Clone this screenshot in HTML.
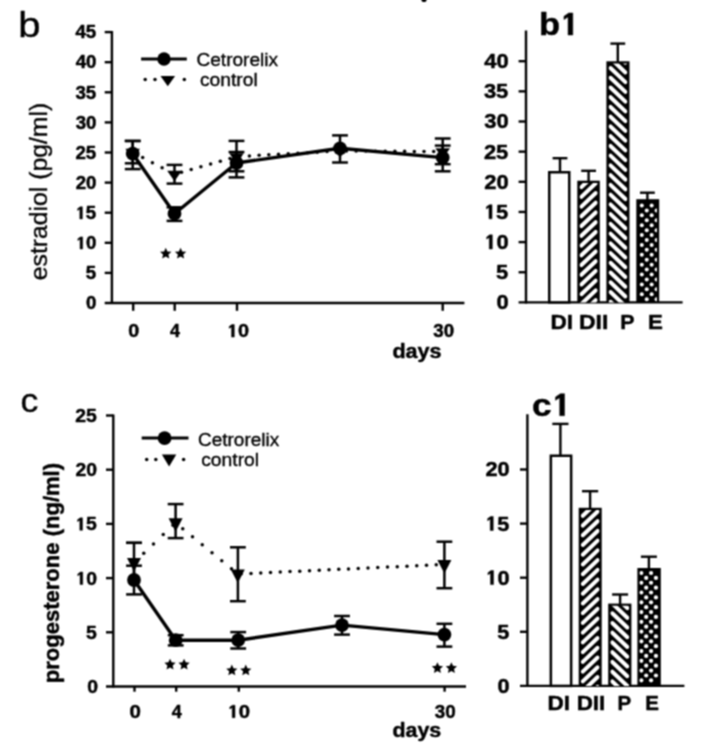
<!DOCTYPE html>
<html><head><meta charset="utf-8"><title>figure</title>
<style>
html,body{margin:0;padding:0;background:#fff;}
body{width:719px;height:750px;overflow:hidden;font-family:"Liberation Sans",sans-serif;}
svg{display:block;font-family:"Liberation Sans",sans-serif;}
</style></head><body>
<svg width="719" height="750" viewBox="0 0 719 750">
<defs><filter id="bl" x="0" y="0" width="100%" height="100%" filterUnits="objectBoundingBox" color-interpolation-filters="sRGB"><feConvolveMatrix order="3" kernelMatrix="1 2 1 2 4 2 1 2 1" edgeMode="duplicate" preserveAlpha="true"/></filter></defs>
<g filter="url(#bl)">
<rect x="-20" y="-20" width="759" height="790" fill="#fff"/>
<ellipse cx="424" cy="-0.3" rx="2.6" ry="2.4" fill="#000"/>
<line x1="111.90" y1="31.10" x2="111.90" y2="304.00" stroke="#000" stroke-width="2.4" stroke-linecap="butt"/>
<line x1="104.70" y1="303.00" x2="464.40" y2="303.00" stroke="#000" stroke-width="2.4" stroke-linecap="butt"/>
<line x1="104.70" y1="272.90" x2="111.90" y2="272.90" stroke="#000" stroke-width="2.4" stroke-linecap="butt"/>
<line x1="104.70" y1="242.80" x2="111.90" y2="242.80" stroke="#000" stroke-width="2.4" stroke-linecap="butt"/>
<line x1="104.70" y1="212.70" x2="111.90" y2="212.70" stroke="#000" stroke-width="2.4" stroke-linecap="butt"/>
<line x1="104.70" y1="182.60" x2="111.90" y2="182.60" stroke="#000" stroke-width="2.4" stroke-linecap="butt"/>
<line x1="104.70" y1="152.50" x2="111.90" y2="152.50" stroke="#000" stroke-width="2.4" stroke-linecap="butt"/>
<line x1="104.70" y1="122.40" x2="111.90" y2="122.40" stroke="#000" stroke-width="2.4" stroke-linecap="butt"/>
<line x1="104.70" y1="92.30" x2="111.90" y2="92.30" stroke="#000" stroke-width="2.4" stroke-linecap="butt"/>
<line x1="104.70" y1="62.20" x2="111.90" y2="62.20" stroke="#000" stroke-width="2.4" stroke-linecap="butt"/>
<line x1="104.70" y1="32.10" x2="111.90" y2="32.10" stroke="#000" stroke-width="2.4" stroke-linecap="butt"/>
<line x1="133.20" y1="303.00" x2="133.20" y2="310.80" stroke="#000" stroke-width="2.4" stroke-linecap="butt"/>
<line x1="174.70" y1="303.00" x2="174.70" y2="310.80" stroke="#000" stroke-width="2.4" stroke-linecap="butt"/>
<line x1="237.00" y1="303.00" x2="237.00" y2="310.80" stroke="#000" stroke-width="2.4" stroke-linecap="butt"/>
<line x1="442.70" y1="303.00" x2="442.70" y2="310.80" stroke="#000" stroke-width="2.4" stroke-linecap="butt"/>
<text transform="translate(86.09,309.20) scale(1.0600,1)" textLength="9.79" lengthAdjust="spacingAndGlyphs" font-size="17.60" font-weight="bold" fill="#000" stroke="#000" stroke-width="0.45" stroke-linejoin="round">0</text>
<text transform="translate(85.85,279.10) scale(1.0600,1)" textLength="9.79" lengthAdjust="spacingAndGlyphs" font-size="17.60" font-weight="bold" fill="#000" stroke="#000" stroke-width="0.45" stroke-linejoin="round">5</text>
<g transform="translate(75.72,249.00) scale(1.0600,1)" font-size="17.60" font-weight="bold" fill="#000" stroke="#000" stroke-width="0.45" stroke-linejoin="round">
<polygon points="4.11,0.00 4.11,-9.88 2.02,-8.46 2.02,-10.27 4.47,-12.11 6.52,-12.11 6.52,0.00"/>
<text x="9.79" y="0">0</text>
</g>
<g transform="translate(75.47,218.90) scale(1.0600,1)" font-size="17.60" font-weight="bold" fill="#000" stroke="#000" stroke-width="0.45" stroke-linejoin="round">
<polygon points="4.11,0.00 4.11,-9.88 2.02,-8.46 2.02,-10.27 4.47,-12.11 6.52,-12.11 6.52,0.00"/>
<text x="9.79" y="0">5</text>
</g>
<text transform="translate(75.72,188.80) scale(1.0600,1)" textLength="19.58" lengthAdjust="spacingAndGlyphs" font-size="17.60" font-weight="bold" fill="#000" stroke="#000" stroke-width="0.45" stroke-linejoin="round">20</text>
<text transform="translate(75.48,158.70) scale(1.0600,1)" textLength="19.58" lengthAdjust="spacingAndGlyphs" font-size="17.60" font-weight="bold" fill="#000" stroke="#000" stroke-width="0.45" stroke-linejoin="round">25</text>
<text transform="translate(75.72,128.60) scale(1.0600,1)" textLength="19.58" lengthAdjust="spacingAndGlyphs" font-size="17.60" font-weight="bold" fill="#000" stroke="#000" stroke-width="0.45" stroke-linejoin="round">30</text>
<text transform="translate(75.48,98.50) scale(1.0600,1)" textLength="19.58" lengthAdjust="spacingAndGlyphs" font-size="17.60" font-weight="bold" fill="#000" stroke="#000" stroke-width="0.45" stroke-linejoin="round">35</text>
<text transform="translate(75.72,68.40) scale(1.0600,1)" textLength="19.58" lengthAdjust="spacingAndGlyphs" font-size="17.60" font-weight="bold" fill="#000" stroke="#000" stroke-width="0.45" stroke-linejoin="round">40</text>
<text transform="translate(75.48,38.30) scale(1.0600,1)" textLength="19.58" lengthAdjust="spacingAndGlyphs" font-size="17.60" font-weight="bold" fill="#000" stroke="#000" stroke-width="0.45" stroke-linejoin="round">45</text>
<text transform="translate(128.21,337.10) scale(1.0873,1)" textLength="10.12" lengthAdjust="spacingAndGlyphs" font-size="18.20" font-weight="bold" fill="#000" stroke="#000" stroke-width="0.45" stroke-linejoin="round">0</text>
<text transform="translate(169.93,337.10) scale(0.9841,1)" textLength="10.12" lengthAdjust="spacingAndGlyphs" font-size="18.20" font-weight="bold" fill="#000" stroke="#000" stroke-width="0.45" stroke-linejoin="round">4</text>
<g transform="translate(226.92,337.10) scale(1.0915,1)" font-size="18.20" font-weight="bold" fill="#000" stroke="#000" stroke-width="0.45" stroke-linejoin="round">
<polygon points="4.25,0.00 4.25,-10.22 2.09,-8.75 2.09,-10.62 4.62,-12.52 6.75,-12.52 6.75,0.00"/>
<text x="10.12" y="0">0</text>
</g>
<text transform="translate(433.27,337.10) scale(1.0276,1)" textLength="20.24" lengthAdjust="spacingAndGlyphs" font-size="18.20" font-weight="bold" fill="#000" stroke="#000" stroke-width="0.45" stroke-linejoin="round">30</text>
<text transform="translate(392.42,358.40) scale(1.0473,1)" textLength="46.95" lengthAdjust="spacingAndGlyphs" font-size="20.60" font-weight="bold" fill="#000" stroke="#000" stroke-width="0.45" stroke-linejoin="round">days</text>
<text transform="translate(18.19,37.00) scale(1.1487,1)" textLength="19.41" lengthAdjust="spacingAndGlyphs" font-size="34.90" font-weight="normal" fill="#000" stroke="#000" stroke-width="0.35" stroke-linejoin="round">b</text>
<text transform="translate(47.20,280.24) rotate(-90) scale(1.0396,1)" textLength="170.62" lengthAdjust="spacingAndGlyphs" font-size="23.80" font-weight="normal" fill="#000" stroke="#000" stroke-width="0.35" stroke-linejoin="round">estradiol (pg/ml)</text>
<line x1="141.10" y1="59.00" x2="186.80" y2="59.00" stroke="#000" stroke-width="3.0" stroke-linecap="butt"/>
<circle cx="164.00" cy="59.00" r="6.7" fill="#000"/>
<text transform="translate(196.43,66.10) scale(1.0047,1)" textLength="81.30" lengthAdjust="spacingAndGlyphs" font-size="19.00" font-weight="normal" fill="#000" stroke="#000" stroke-width="0.35" stroke-linejoin="round">Cetrorelix</text>
<text transform="translate(199.99,85.80) scale(1.0119,1)" textLength="57.03" lengthAdjust="spacingAndGlyphs" font-size="19.00" font-weight="normal" fill="#000" stroke="#000" stroke-width="0.35" stroke-linejoin="round">control</text>
<circle cx="145.2" cy="79.6" r="1.75" fill="#000"/>
<circle cx="155.0" cy="79.6" r="1.75" fill="#000"/>
<circle cx="184.3" cy="79.6" r="1.75" fill="#000"/>
<polygon points="160.50,75.93 175.10,75.93 167.80,86.33" fill="#000"/>
<circle cx="142.70" cy="157.56" r="1.75" fill="#000"/>
<circle cx="152.40" cy="162.67" r="1.75" fill="#000"/>
<circle cx="162.10" cy="167.77" r="1.75" fill="#000"/>
<circle cx="171.80" cy="172.88" r="1.75" fill="#000"/>
<circle cx="181.50" cy="172.30" r="1.75" fill="#000"/>
<circle cx="191.20" cy="169.53" r="1.75" fill="#000"/>
<circle cx="200.90" cy="166.76" r="1.75" fill="#000"/>
<circle cx="210.60" cy="163.99" r="1.75" fill="#000"/>
<circle cx="220.30" cy="161.22" r="1.75" fill="#000"/>
<circle cx="230.00" cy="158.46" r="1.75" fill="#000"/>
<circle cx="239.70" cy="156.42" r="1.75" fill="#000"/>
<circle cx="249.40" cy="155.89" r="1.75" fill="#000"/>
<circle cx="259.10" cy="155.36" r="1.75" fill="#000"/>
<circle cx="268.80" cy="154.82" r="1.75" fill="#000"/>
<circle cx="278.50" cy="154.29" r="1.75" fill="#000"/>
<circle cx="288.20" cy="153.75" r="1.75" fill="#000"/>
<circle cx="297.90" cy="153.22" r="1.75" fill="#000"/>
<circle cx="307.60" cy="152.68" r="1.75" fill="#000"/>
<circle cx="317.30" cy="152.15" r="1.75" fill="#000"/>
<circle cx="327.00" cy="151.62" r="1.75" fill="#000"/>
<circle cx="336.70" cy="151.08" r="1.75" fill="#000"/>
<circle cx="346.40" cy="150.94" r="1.75" fill="#000"/>
<circle cx="356.10" cy="151.01" r="1.75" fill="#000"/>
<circle cx="365.80" cy="151.08" r="1.75" fill="#000"/>
<circle cx="375.50" cy="151.14" r="1.75" fill="#000"/>
<circle cx="385.20" cy="151.21" r="1.75" fill="#000"/>
<circle cx="394.90" cy="151.27" r="1.75" fill="#000"/>
<circle cx="404.60" cy="151.34" r="1.75" fill="#000"/>
<circle cx="414.30" cy="151.41" r="1.75" fill="#000"/>
<circle cx="424.00" cy="151.47" r="1.75" fill="#000"/>
<circle cx="433.70" cy="151.54" r="1.75" fill="#000"/>
<polyline points="132.70,153.70 174.50,213.70 236.50,163.00 340.00,148.30 442.70,157.60" fill="none" stroke="#000" stroke-width="3.4" stroke-linejoin="round"/>
<line x1="132.70" y1="140.90" x2="132.70" y2="163.30" stroke="#000" stroke-width="2.5" stroke-linecap="butt"/>
<line x1="124.80" y1="140.90" x2="140.60" y2="140.90" stroke="#000" stroke-width="2.5" stroke-linecap="butt"/>
<line x1="124.80" y1="163.30" x2="140.60" y2="163.30" stroke="#000" stroke-width="2.5" stroke-linecap="butt"/>
<line x1="132.70" y1="141.00" x2="132.70" y2="169.10" stroke="#000" stroke-width="2.5" stroke-linecap="butt"/>
<line x1="124.80" y1="141.00" x2="140.60" y2="141.00" stroke="#000" stroke-width="2.5" stroke-linecap="butt"/>
<line x1="124.80" y1="169.10" x2="140.60" y2="169.10" stroke="#000" stroke-width="2.5" stroke-linecap="butt"/>
<line x1="174.50" y1="164.90" x2="174.50" y2="183.60" stroke="#000" stroke-width="2.5" stroke-linecap="butt"/>
<line x1="166.60" y1="164.90" x2="182.40" y2="164.90" stroke="#000" stroke-width="2.5" stroke-linecap="butt"/>
<line x1="166.60" y1="183.60" x2="182.40" y2="183.60" stroke="#000" stroke-width="2.5" stroke-linecap="butt"/>
<line x1="174.50" y1="207.30" x2="174.50" y2="220.90" stroke="#000" stroke-width="2.5" stroke-linecap="butt"/>
<line x1="166.60" y1="207.30" x2="182.40" y2="207.30" stroke="#000" stroke-width="2.5" stroke-linecap="butt"/>
<line x1="166.60" y1="220.90" x2="182.40" y2="220.90" stroke="#000" stroke-width="2.5" stroke-linecap="butt"/>
<line x1="236.50" y1="140.90" x2="236.50" y2="171.30" stroke="#000" stroke-width="2.5" stroke-linecap="butt"/>
<line x1="228.60" y1="140.90" x2="244.40" y2="140.90" stroke="#000" stroke-width="2.5" stroke-linecap="butt"/>
<line x1="228.60" y1="171.30" x2="244.40" y2="171.30" stroke="#000" stroke-width="2.5" stroke-linecap="butt"/>
<line x1="236.50" y1="152.00" x2="236.50" y2="177.40" stroke="#000" stroke-width="2.5" stroke-linecap="butt"/>
<line x1="228.60" y1="152.00" x2="244.40" y2="152.00" stroke="#000" stroke-width="2.5" stroke-linecap="butt"/>
<line x1="228.60" y1="177.40" x2="244.40" y2="177.40" stroke="#000" stroke-width="2.5" stroke-linecap="butt"/>
<line x1="340.00" y1="135.40" x2="340.00" y2="162.50" stroke="#000" stroke-width="2.5" stroke-linecap="butt"/>
<line x1="332.10" y1="135.40" x2="347.90" y2="135.40" stroke="#000" stroke-width="2.5" stroke-linecap="butt"/>
<line x1="332.10" y1="162.50" x2="347.90" y2="162.50" stroke="#000" stroke-width="2.5" stroke-linecap="butt"/>
<line x1="442.70" y1="138.50" x2="442.70" y2="164.20" stroke="#000" stroke-width="2.5" stroke-linecap="butt"/>
<line x1="434.80" y1="138.50" x2="450.60" y2="138.50" stroke="#000" stroke-width="2.5" stroke-linecap="butt"/>
<line x1="434.80" y1="164.20" x2="450.60" y2="164.20" stroke="#000" stroke-width="2.5" stroke-linecap="butt"/>
<line x1="442.70" y1="145.60" x2="442.70" y2="171.30" stroke="#000" stroke-width="2.5" stroke-linecap="butt"/>
<line x1="434.80" y1="145.60" x2="450.60" y2="145.60" stroke="#000" stroke-width="2.5" stroke-linecap="butt"/>
<line x1="434.80" y1="171.30" x2="450.60" y2="171.30" stroke="#000" stroke-width="2.5" stroke-linecap="butt"/>
<circle cx="132.70" cy="153.70" r="6.9" fill="#000"/>
<circle cx="174.50" cy="213.70" r="6.9" fill="#000"/>
<circle cx="236.50" cy="163.00" r="6.9" fill="#000"/>
<circle cx="340.00" cy="148.30" r="6.9" fill="#000"/>
<circle cx="442.70" cy="157.60" r="6.9" fill="#000"/>
<polygon points="125.40,148.83 140.00,148.83 132.70,159.23" fill="#000"/>
<polygon points="167.20,170.83 181.80,170.83 174.50,181.23" fill="#000"/>
<polygon points="229.20,153.13 243.80,153.13 236.50,163.53" fill="#000"/>
<polygon points="332.70,147.43 347.30,147.43 340.00,157.83" fill="#000"/>
<polygon points="435.40,148.13 450.00,148.13 442.70,158.53" fill="#000"/>
<polygon points="165.73,247.70 167.40,251.43 171.46,251.86 168.42,254.60 169.27,258.60 165.73,256.56 162.19,258.60 163.04,254.60 160.00,251.86 164.07,251.43" fill="#000"/>
<polygon points="180.57,247.70 182.23,251.43 186.30,251.86 183.26,254.60 184.11,258.60 180.57,256.56 177.03,258.60 177.88,254.60 174.84,251.86 178.90,251.43" fill="#000"/>
<line x1="526.00" y1="30.60" x2="526.00" y2="303.40" stroke="#000" stroke-width="2.4" stroke-linecap="butt"/>
<line x1="518.60" y1="302.40" x2="682.60" y2="302.40" stroke="#000" stroke-width="2.4" stroke-linecap="butt"/>
<line x1="518.60" y1="272.25" x2="526.00" y2="272.25" stroke="#000" stroke-width="2.4" stroke-linecap="butt"/>
<line x1="518.60" y1="242.10" x2="526.00" y2="242.10" stroke="#000" stroke-width="2.4" stroke-linecap="butt"/>
<line x1="518.60" y1="211.95" x2="526.00" y2="211.95" stroke="#000" stroke-width="2.4" stroke-linecap="butt"/>
<line x1="518.60" y1="181.80" x2="526.00" y2="181.80" stroke="#000" stroke-width="2.4" stroke-linecap="butt"/>
<line x1="518.60" y1="151.65" x2="526.00" y2="151.65" stroke="#000" stroke-width="2.4" stroke-linecap="butt"/>
<line x1="518.60" y1="121.50" x2="526.00" y2="121.50" stroke="#000" stroke-width="2.4" stroke-linecap="butt"/>
<line x1="518.60" y1="91.35" x2="526.00" y2="91.35" stroke="#000" stroke-width="2.4" stroke-linecap="butt"/>
<line x1="518.60" y1="61.20" x2="526.00" y2="61.20" stroke="#000" stroke-width="2.4" stroke-linecap="butt"/>
<text transform="translate(496.39,309.30) scale(1.0700,1)" textLength="11.42" lengthAdjust="spacingAndGlyphs" font-size="20.53" font-weight="bold" fill="#000" stroke="#000" stroke-width="0.45" stroke-linejoin="round">0</text>
<text transform="translate(496.10,279.15) scale(1.0700,1)" textLength="11.42" lengthAdjust="spacingAndGlyphs" font-size="20.53" font-weight="bold" fill="#000" stroke="#000" stroke-width="0.45" stroke-linejoin="round">5</text>
<g transform="translate(484.17,249.00) scale(1.0700,1)" font-size="20.53" font-weight="bold" fill="#000" stroke="#000" stroke-width="0.45" stroke-linejoin="round">
<polygon points="4.79,0.00 4.79,-11.53 2.36,-9.88 2.36,-11.98 5.21,-14.13 7.61,-14.13 7.61,0.00"/>
<text x="11.42" y="0">0</text>
</g>
<g transform="translate(483.88,218.85) scale(1.0700,1)" font-size="20.53" font-weight="bold" fill="#000" stroke="#000" stroke-width="0.45" stroke-linejoin="round">
<polygon points="4.79,0.00 4.79,-11.53 2.36,-9.88 2.36,-11.98 5.21,-14.13 7.61,-14.13 7.61,0.00"/>
<text x="11.42" y="0">5</text>
</g>
<text transform="translate(484.17,188.70) scale(1.0700,1)" textLength="22.84" lengthAdjust="spacingAndGlyphs" font-size="20.53" font-weight="bold" fill="#000" stroke="#000" stroke-width="0.45" stroke-linejoin="round">20</text>
<text transform="translate(483.88,158.55) scale(1.0700,1)" textLength="22.84" lengthAdjust="spacingAndGlyphs" font-size="20.53" font-weight="bold" fill="#000" stroke="#000" stroke-width="0.45" stroke-linejoin="round">25</text>
<text transform="translate(484.17,128.40) scale(1.0700,1)" textLength="22.84" lengthAdjust="spacingAndGlyphs" font-size="20.53" font-weight="bold" fill="#000" stroke="#000" stroke-width="0.45" stroke-linejoin="round">30</text>
<text transform="translate(483.88,98.25) scale(1.0700,1)" textLength="22.84" lengthAdjust="spacingAndGlyphs" font-size="20.53" font-weight="bold" fill="#000" stroke="#000" stroke-width="0.45" stroke-linejoin="round">35</text>
<text transform="translate(484.17,68.10) scale(1.0700,1)" textLength="22.84" lengthAdjust="spacingAndGlyphs" font-size="20.53" font-weight="bold" fill="#000" stroke="#000" stroke-width="0.45" stroke-linejoin="round">40</text>
<g transform="translate(538.92,35.00) scale(1.0787,1)" font-size="32.00" font-weight="bold" fill="#000" stroke="#000" stroke-width="0.45" stroke-linejoin="round">
<text x="0.00" y="0">b</text>
<polygon points="27.02,0.00 27.02,-17.97 23.22,-15.39 23.22,-18.67 27.67,-22.02 31.41,-22.02 31.41,0.00"/>
</g>
<rect x="549.25" y="172.25" width="20.00" height="130.15" fill="#fff" stroke="#000" stroke-width="2.5"/>
<line x1="560.00" y1="158.20" x2="560.00" y2="172.00" stroke="#000" stroke-width="2.4" stroke-linecap="butt"/>
<line x1="552.60" y1="158.20" x2="567.40" y2="158.20" stroke="#000" stroke-width="2.4" stroke-linecap="butt"/>
<rect x="577.30" y="180.70" width="22.50" height="121.70" fill="#000"/>
<clipPath id="c1"><rect x="579.50" y="182.90" width="18.10" height="119.50"/></clipPath>
<g clip-path="url(#c1)" stroke="#fff" stroke-width="4.0" stroke-linecap="round">
<line x1="581.40" y1="138.40" x2="595.70" y2="124.82"/>
<line x1="581.40" y1="148.14" x2="595.70" y2="134.56"/>
<line x1="581.40" y1="157.88" x2="595.70" y2="144.30"/>
<line x1="581.40" y1="167.62" x2="595.70" y2="154.04"/>
<line x1="581.40" y1="177.36" x2="595.70" y2="163.78"/>
<line x1="581.40" y1="187.10" x2="595.70" y2="173.52"/>
<line x1="581.40" y1="196.84" x2="595.70" y2="183.26"/>
<line x1="581.40" y1="206.58" x2="595.70" y2="193.00"/>
<line x1="581.40" y1="216.32" x2="595.70" y2="202.74"/>
<line x1="581.40" y1="226.06" x2="595.70" y2="212.48"/>
<line x1="581.40" y1="235.80" x2="595.70" y2="222.22"/>
<line x1="581.40" y1="245.54" x2="595.70" y2="231.96"/>
<line x1="581.40" y1="255.28" x2="595.70" y2="241.70"/>
<line x1="581.40" y1="265.02" x2="595.70" y2="251.44"/>
<line x1="581.40" y1="274.76" x2="595.70" y2="261.18"/>
<line x1="581.40" y1="284.50" x2="595.70" y2="270.92"/>
<line x1="581.40" y1="294.24" x2="595.70" y2="280.66"/>
<line x1="581.40" y1="303.98" x2="595.70" y2="290.40"/>
<line x1="581.40" y1="313.72" x2="595.70" y2="300.14"/>
<line x1="581.40" y1="323.46" x2="595.70" y2="309.88"/>
<line x1="581.40" y1="333.20" x2="595.70" y2="319.62"/>
<line x1="581.40" y1="342.94" x2="595.70" y2="329.36"/>
</g>
<line x1="588.60" y1="170.80" x2="588.60" y2="181.70" stroke="#000" stroke-width="2.4" stroke-linecap="butt"/>
<line x1="581.20" y1="170.80" x2="596.00" y2="170.80" stroke="#000" stroke-width="2.4" stroke-linecap="butt"/>
<rect x="606.40" y="61.30" width="23.10" height="241.10" fill="#000"/>
<clipPath id="c2"><rect x="608.60" y="63.50" width="18.70" height="238.90"/></clipPath>
<g clip-path="url(#c2)" stroke="#fff" stroke-width="4.0" stroke-linecap="round">
<line x1="610.50" y1="19.32" x2="625.40" y2="33.47"/>
<line x1="610.50" y1="29.06" x2="625.40" y2="43.21"/>
<line x1="610.50" y1="38.79" x2="625.40" y2="52.95"/>
<line x1="610.50" y1="48.54" x2="625.40" y2="62.69"/>
<line x1="610.50" y1="58.28" x2="625.40" y2="72.43"/>
<line x1="610.50" y1="68.01" x2="625.40" y2="82.17"/>
<line x1="610.50" y1="77.75" x2="625.40" y2="91.91"/>
<line x1="610.50" y1="87.50" x2="625.40" y2="101.65"/>
<line x1="610.50" y1="97.23" x2="625.40" y2="111.39"/>
<line x1="610.50" y1="106.97" x2="625.40" y2="121.13"/>
<line x1="610.50" y1="116.72" x2="625.40" y2="130.87"/>
<line x1="610.50" y1="126.45" x2="625.40" y2="140.61"/>
<line x1="610.50" y1="136.19" x2="625.40" y2="150.35"/>
<line x1="610.50" y1="145.94" x2="625.40" y2="160.09"/>
<line x1="610.50" y1="155.67" x2="625.40" y2="169.83"/>
<line x1="610.50" y1="165.41" x2="625.40" y2="179.57"/>
<line x1="610.50" y1="175.16" x2="625.40" y2="189.31"/>
<line x1="610.50" y1="184.90" x2="625.40" y2="199.05"/>
<line x1="610.50" y1="194.63" x2="625.40" y2="208.79"/>
<line x1="610.50" y1="204.38" x2="625.40" y2="218.53"/>
<line x1="610.50" y1="214.12" x2="625.40" y2="228.27"/>
<line x1="610.50" y1="223.85" x2="625.40" y2="238.01"/>
<line x1="610.50" y1="233.59" x2="625.40" y2="247.75"/>
<line x1="610.50" y1="243.34" x2="625.40" y2="257.49"/>
<line x1="610.50" y1="253.08" x2="625.40" y2="267.23"/>
<line x1="610.50" y1="262.82" x2="625.40" y2="276.97"/>
<line x1="610.50" y1="272.56" x2="625.40" y2="286.71"/>
<line x1="610.50" y1="282.30" x2="625.40" y2="296.45"/>
<line x1="610.50" y1="292.04" x2="625.40" y2="306.19"/>
<line x1="610.50" y1="301.78" x2="625.40" y2="315.93"/>
<line x1="610.50" y1="311.52" x2="625.40" y2="325.67"/>
<line x1="610.50" y1="321.25" x2="625.40" y2="335.41"/>
<line x1="610.50" y1="331.00" x2="625.40" y2="345.15"/>
<line x1="610.50" y1="340.74" x2="625.40" y2="354.89"/>
<line x1="610.50" y1="350.48" x2="625.40" y2="364.63"/>
</g>
<line x1="617.80" y1="43.60" x2="617.80" y2="62.30" stroke="#000" stroke-width="2.4" stroke-linecap="butt"/>
<line x1="610.40" y1="43.60" x2="625.20" y2="43.60" stroke="#000" stroke-width="2.4" stroke-linecap="butt"/>
<rect x="636.30" y="199.20" width="22.90" height="103.20" fill="#000"/>
<clipPath id="c3"><rect x="638.30" y="201.20" width="18.60" height="101.20"/></clipPath>
<g clip-path="url(#c3)" fill="#fff">
<circle cx="641.80" cy="205.50" r="2.0"/>
<circle cx="641.80" cy="215.36" r="2.0"/>
<circle cx="641.80" cy="225.22" r="2.0"/>
<circle cx="641.80" cy="235.08" r="2.0"/>
<circle cx="641.80" cy="244.94" r="2.0"/>
<circle cx="641.80" cy="254.80" r="2.0"/>
<circle cx="641.80" cy="264.66" r="2.0"/>
<circle cx="641.80" cy="274.52" r="2.0"/>
<circle cx="641.80" cy="284.38" r="2.0"/>
<circle cx="641.80" cy="294.24" r="2.0"/>
<circle cx="646.73" cy="210.43" r="2.0"/>
<circle cx="646.73" cy="220.29" r="2.0"/>
<circle cx="646.73" cy="230.15" r="2.0"/>
<circle cx="646.73" cy="240.01" r="2.0"/>
<circle cx="646.73" cy="249.87" r="2.0"/>
<circle cx="646.73" cy="259.73" r="2.0"/>
<circle cx="646.73" cy="269.59" r="2.0"/>
<circle cx="646.73" cy="279.45" r="2.0"/>
<circle cx="646.73" cy="289.31" r="2.0"/>
<circle cx="646.73" cy="299.17" r="2.0"/>
<circle cx="651.66" cy="205.50" r="2.0"/>
<circle cx="651.66" cy="215.36" r="2.0"/>
<circle cx="651.66" cy="225.22" r="2.0"/>
<circle cx="651.66" cy="235.08" r="2.0"/>
<circle cx="651.66" cy="244.94" r="2.0"/>
<circle cx="651.66" cy="254.80" r="2.0"/>
<circle cx="651.66" cy="264.66" r="2.0"/>
<circle cx="651.66" cy="274.52" r="2.0"/>
<circle cx="651.66" cy="284.38" r="2.0"/>
<circle cx="651.66" cy="294.24" r="2.0"/>
<circle cx="656.59" cy="210.43" r="2.0"/>
<circle cx="656.59" cy="220.29" r="2.0"/>
<circle cx="656.59" cy="230.15" r="2.0"/>
<circle cx="656.59" cy="240.01" r="2.0"/>
<circle cx="656.59" cy="249.87" r="2.0"/>
<circle cx="656.59" cy="259.73" r="2.0"/>
<circle cx="656.59" cy="269.59" r="2.0"/>
<circle cx="656.59" cy="279.45" r="2.0"/>
<circle cx="656.59" cy="289.31" r="2.0"/>
<circle cx="656.59" cy="299.17" r="2.0"/>
</g>
<line x1="647.40" y1="192.70" x2="647.40" y2="200.20" stroke="#000" stroke-width="2.4" stroke-linecap="butt"/>
<line x1="640.00" y1="192.70" x2="654.80" y2="192.70" stroke="#000" stroke-width="2.4" stroke-linecap="butt"/>
<text transform="translate(550.59,328.50) scale(1.1372,1)" textLength="19.80" lengthAdjust="spacingAndGlyphs" font-size="19.80" font-weight="bold" fill="#000" stroke="#000" stroke-width="0.45" stroke-linejoin="round">DI</text>
<text transform="translate(579.07,328.50) scale(1.1567,1)" textLength="25.30" lengthAdjust="spacingAndGlyphs" font-size="19.80" font-weight="bold" fill="#000" stroke="#000" stroke-width="0.45" stroke-linejoin="round">DII</text>
<text transform="translate(620.17,328.50) scale(1.0797,1)" textLength="13.21" lengthAdjust="spacingAndGlyphs" font-size="19.80" font-weight="bold" fill="#000" stroke="#000" stroke-width="0.45" stroke-linejoin="round">P</text>
<text transform="translate(647.91,328.50) scale(1.1253,1)" textLength="13.21" lengthAdjust="spacingAndGlyphs" font-size="19.80" font-weight="bold" fill="#000" stroke="#000" stroke-width="0.45" stroke-linejoin="round">E</text>
<line x1="113.30" y1="414.40" x2="113.30" y2="687.50" stroke="#000" stroke-width="2.4" stroke-linecap="butt"/>
<line x1="106.00" y1="686.50" x2="466.00" y2="686.50" stroke="#000" stroke-width="2.4" stroke-linecap="butt"/>
<line x1="106.00" y1="632.30" x2="113.30" y2="632.30" stroke="#000" stroke-width="2.4" stroke-linecap="butt"/>
<line x1="106.00" y1="578.10" x2="113.30" y2="578.10" stroke="#000" stroke-width="2.4" stroke-linecap="butt"/>
<line x1="106.00" y1="523.90" x2="113.30" y2="523.90" stroke="#000" stroke-width="2.4" stroke-linecap="butt"/>
<line x1="106.00" y1="469.70" x2="113.30" y2="469.70" stroke="#000" stroke-width="2.4" stroke-linecap="butt"/>
<line x1="106.00" y1="415.50" x2="113.30" y2="415.50" stroke="#000" stroke-width="2.4" stroke-linecap="butt"/>
<line x1="134.50" y1="686.50" x2="134.50" y2="691.70" stroke="#000" stroke-width="2.4" stroke-linecap="butt"/>
<line x1="176.20" y1="686.50" x2="176.20" y2="691.70" stroke="#000" stroke-width="2.4" stroke-linecap="butt"/>
<line x1="238.80" y1="686.50" x2="238.80" y2="691.70" stroke="#000" stroke-width="2.4" stroke-linecap="butt"/>
<line x1="444.60" y1="686.50" x2="444.60" y2="691.70" stroke="#000" stroke-width="2.4" stroke-linecap="butt"/>
<text transform="translate(87.33,692.90) scale(1.0700,1)" textLength="10.07" lengthAdjust="spacingAndGlyphs" font-size="18.10" font-weight="bold" fill="#000" stroke="#000" stroke-width="0.45" stroke-linejoin="round">0</text>
<text transform="translate(86.07,638.70) scale(1.0700,1)" textLength="10.07" lengthAdjust="spacingAndGlyphs" font-size="18.10" font-weight="bold" fill="#000" stroke="#000" stroke-width="0.45" stroke-linejoin="round">5</text>
<g transform="translate(75.55,584.50) scale(1.0700,1)" font-size="18.10" font-weight="bold" fill="#000" stroke="#000" stroke-width="0.45" stroke-linejoin="round">
<polygon points="4.22,0.00 4.22,-10.16 2.08,-8.71 2.08,-10.56 4.60,-12.45 6.71,-12.45 6.71,0.00"/>
<text x="10.07" y="0">0</text>
</g>
<g transform="translate(75.30,530.30) scale(1.0700,1)" font-size="18.10" font-weight="bold" fill="#000" stroke="#000" stroke-width="0.45" stroke-linejoin="round">
<polygon points="4.22,0.00 4.22,-10.16 2.08,-8.71 2.08,-10.56 4.60,-12.45 6.71,-12.45 6.71,0.00"/>
<text x="10.07" y="0">5</text>
</g>
<text transform="translate(75.56,476.10) scale(1.0700,1)" textLength="20.13" lengthAdjust="spacingAndGlyphs" font-size="18.10" font-weight="bold" fill="#000" stroke="#000" stroke-width="0.45" stroke-linejoin="round">20</text>
<text transform="translate(75.31,421.90) scale(1.0700,1)" textLength="20.13" lengthAdjust="spacingAndGlyphs" font-size="18.10" font-weight="bold" fill="#000" stroke="#000" stroke-width="0.45" stroke-linejoin="round">25</text>
<text transform="translate(129.38,717.70) scale(1.1220,1)" textLength="10.12" lengthAdjust="spacingAndGlyphs" font-size="18.20" font-weight="bold" fill="#000" stroke="#000" stroke-width="0.45" stroke-linejoin="round">0</text>
<text transform="translate(171.63,717.70) scale(0.9943,1)" textLength="10.12" lengthAdjust="spacingAndGlyphs" font-size="18.20" font-weight="bold" fill="#000" stroke="#000" stroke-width="0.45" stroke-linejoin="round">4</text>
<g transform="translate(227.47,717.70) scale(1.1145,1)" font-size="18.20" font-weight="bold" fill="#000" stroke="#000" stroke-width="0.45" stroke-linejoin="round">
<polygon points="4.25,0.00 4.25,-10.22 2.09,-8.75 2.09,-10.62 4.62,-12.52 6.75,-12.52 6.75,0.00"/>
<text x="10.12" y="0">0</text>
</g>
<text transform="translate(434.77,717.70) scale(1.0328,1)" textLength="20.24" lengthAdjust="spacingAndGlyphs" font-size="18.20" font-weight="bold" fill="#000" stroke="#000" stroke-width="0.45" stroke-linejoin="round">30</text>
<text transform="translate(392.42,737.10) scale(1.0696,1)" textLength="45.59" lengthAdjust="spacingAndGlyphs" font-size="20.00" font-weight="bold" fill="#000" stroke="#000" stroke-width="0.45" stroke-linejoin="round">days</text>
<text transform="translate(20.60,412.00) scale(1.0802,1)" textLength="16.50" lengthAdjust="spacingAndGlyphs" font-size="33.00" font-weight="normal" fill="#000" stroke="#000" stroke-width="0.35" stroke-linejoin="round">c</text>
<text transform="translate(59.30,683.25) rotate(-90) scale(0.9880,1)" textLength="223.01" lengthAdjust="spacingAndGlyphs" font-size="22.30" font-weight="bold" fill="#000" stroke="#000" stroke-width="0.45" stroke-linejoin="round">progesterone (ng/ml)</text>
<line x1="141.70" y1="438.10" x2="188.50" y2="438.10" stroke="#000" stroke-width="3.0" stroke-linecap="butt"/>
<circle cx="164.60" cy="438.10" r="6.9" fill="#000"/>
<text transform="translate(198.03,445.60) scale(0.9985,1)" textLength="81.30" lengthAdjust="spacingAndGlyphs" font-size="19.00" font-weight="normal" fill="#000" stroke="#000" stroke-width="0.35" stroke-linejoin="round">Cetrorelix</text>
<text transform="translate(201.19,465.70) scale(1.0155,1)" textLength="57.03" lengthAdjust="spacingAndGlyphs" font-size="19.00" font-weight="normal" fill="#000" stroke="#000" stroke-width="0.35" stroke-linejoin="round">control</text>
<circle cx="146.7" cy="459.6" r="1.75" fill="#000"/>
<circle cx="155.8" cy="459.6" r="1.75" fill="#000"/>
<circle cx="183.6" cy="459.6" r="1.75" fill="#000"/>
<polygon points="161.90,454.40 176.30,454.40 169.10,466.40" fill="#000"/>
<circle cx="143.75" cy="553.20" r="1.75" fill="#000"/>
<circle cx="153.50" cy="543.89" r="1.75" fill="#000"/>
<circle cx="163.25" cy="534.59" r="1.75" fill="#000"/>
<circle cx="173.00" cy="525.28" r="1.75" fill="#000"/>
<circle cx="182.75" cy="528.69" r="1.75" fill="#000"/>
<circle cx="192.50" cy="536.71" r="1.75" fill="#000"/>
<circle cx="202.25" cy="544.74" r="1.75" fill="#000"/>
<circle cx="212.00" cy="552.76" r="1.75" fill="#000"/>
<circle cx="221.75" cy="560.79" r="1.75" fill="#000"/>
<circle cx="231.50" cy="568.81" r="1.75" fill="#000"/>
<circle cx="241.25" cy="573.84" r="1.75" fill="#000"/>
<circle cx="251.00" cy="573.39" r="1.75" fill="#000"/>
<circle cx="260.75" cy="572.94" r="1.75" fill="#000"/>
<circle cx="270.50" cy="572.50" r="1.75" fill="#000"/>
<circle cx="280.25" cy="572.05" r="1.75" fill="#000"/>
<circle cx="290.00" cy="571.60" r="1.75" fill="#000"/>
<circle cx="299.75" cy="571.15" r="1.75" fill="#000"/>
<circle cx="309.50" cy="570.70" r="1.75" fill="#000"/>
<circle cx="319.25" cy="570.25" r="1.75" fill="#000"/>
<circle cx="329.00" cy="569.81" r="1.75" fill="#000"/>
<circle cx="338.75" cy="569.36" r="1.75" fill="#000"/>
<circle cx="348.50" cy="568.91" r="1.75" fill="#000"/>
<circle cx="358.25" cy="568.46" r="1.75" fill="#000"/>
<circle cx="368.00" cy="568.01" r="1.75" fill="#000"/>
<circle cx="377.75" cy="567.56" r="1.75" fill="#000"/>
<circle cx="387.50" cy="567.12" r="1.75" fill="#000"/>
<circle cx="397.25" cy="566.67" r="1.75" fill="#000"/>
<circle cx="407.00" cy="566.22" r="1.75" fill="#000"/>
<circle cx="416.75" cy="565.77" r="1.75" fill="#000"/>
<circle cx="426.50" cy="565.32" r="1.75" fill="#000"/>
<circle cx="436.25" cy="564.87" r="1.75" fill="#000"/>
<polyline points="134.00,580.00 175.70,640.20 238.20,640.20 342.00,625.10 444.40,634.60" fill="none" stroke="#000" stroke-width="3.4" stroke-linejoin="round"/>
<line x1="134.00" y1="542.80" x2="134.00" y2="542.80" stroke="#000" stroke-width="2.5" stroke-linecap="butt"/>
<line x1="126.10" y1="542.80" x2="141.90" y2="542.80" stroke="#000" stroke-width="2.5" stroke-linecap="butt"/>
<line x1="126.10" y1="542.80" x2="141.90" y2="542.80" stroke="#000" stroke-width="2.5" stroke-linecap="butt"/>
<line x1="134.00" y1="542.80" x2="134.00" y2="580.00" stroke="#000" stroke-width="2.5" stroke-linecap="butt"/>
<line x1="134.00" y1="565.70" x2="134.00" y2="594.40" stroke="#000" stroke-width="2.5" stroke-linecap="butt"/>
<line x1="126.10" y1="565.70" x2="141.90" y2="565.70" stroke="#000" stroke-width="2.5" stroke-linecap="butt"/>
<line x1="126.10" y1="594.40" x2="141.90" y2="594.40" stroke="#000" stroke-width="2.5" stroke-linecap="butt"/>
<line x1="175.60" y1="504.10" x2="175.60" y2="538.10" stroke="#000" stroke-width="2.5" stroke-linecap="butt"/>
<line x1="167.70" y1="504.10" x2="183.50" y2="504.10" stroke="#000" stroke-width="2.5" stroke-linecap="butt"/>
<line x1="167.70" y1="538.10" x2="183.50" y2="538.10" stroke="#000" stroke-width="2.5" stroke-linecap="butt"/>
<line x1="175.70" y1="635.20" x2="175.70" y2="645.40" stroke="#000" stroke-width="2.5" stroke-linecap="butt"/>
<line x1="167.80" y1="635.20" x2="183.60" y2="635.20" stroke="#000" stroke-width="2.5" stroke-linecap="butt"/>
<line x1="167.80" y1="645.40" x2="183.60" y2="645.40" stroke="#000" stroke-width="2.5" stroke-linecap="butt"/>
<line x1="237.90" y1="547.30" x2="237.90" y2="601.20" stroke="#000" stroke-width="2.5" stroke-linecap="butt"/>
<line x1="230.00" y1="547.30" x2="245.80" y2="547.30" stroke="#000" stroke-width="2.5" stroke-linecap="butt"/>
<line x1="230.00" y1="601.20" x2="245.80" y2="601.20" stroke="#000" stroke-width="2.5" stroke-linecap="butt"/>
<line x1="238.20" y1="632.10" x2="238.20" y2="648.50" stroke="#000" stroke-width="2.5" stroke-linecap="butt"/>
<line x1="230.30" y1="632.10" x2="246.10" y2="632.10" stroke="#000" stroke-width="2.5" stroke-linecap="butt"/>
<line x1="230.30" y1="648.50" x2="246.10" y2="648.50" stroke="#000" stroke-width="2.5" stroke-linecap="butt"/>
<line x1="342.00" y1="616.00" x2="342.00" y2="634.60" stroke="#000" stroke-width="2.5" stroke-linecap="butt"/>
<line x1="334.10" y1="616.00" x2="349.90" y2="616.00" stroke="#000" stroke-width="2.5" stroke-linecap="butt"/>
<line x1="334.10" y1="634.60" x2="349.90" y2="634.60" stroke="#000" stroke-width="2.5" stroke-linecap="butt"/>
<line x1="444.40" y1="541.70" x2="444.40" y2="588.20" stroke="#000" stroke-width="2.5" stroke-linecap="butt"/>
<line x1="436.50" y1="541.70" x2="452.30" y2="541.70" stroke="#000" stroke-width="2.5" stroke-linecap="butt"/>
<line x1="436.50" y1="588.20" x2="452.30" y2="588.20" stroke="#000" stroke-width="2.5" stroke-linecap="butt"/>
<line x1="444.40" y1="623.80" x2="444.40" y2="646.60" stroke="#000" stroke-width="2.5" stroke-linecap="butt"/>
<line x1="436.50" y1="623.80" x2="452.30" y2="623.80" stroke="#000" stroke-width="2.5" stroke-linecap="butt"/>
<line x1="436.50" y1="646.60" x2="452.30" y2="646.60" stroke="#000" stroke-width="2.5" stroke-linecap="butt"/>
<circle cx="134.00" cy="580.00" r="6.9" fill="#000"/>
<circle cx="175.70" cy="640.20" r="6.9" fill="#000"/>
<circle cx="238.20" cy="640.20" r="6.9" fill="#000"/>
<circle cx="342.00" cy="625.10" r="6.9" fill="#000"/>
<circle cx="444.40" cy="634.60" r="6.9" fill="#000"/>
<polygon points="127.00,558.03 141.00,558.03 134.00,571.43" fill="#000"/>
<polygon points="168.60,518.33 182.60,518.33 175.60,531.73" fill="#000"/>
<polygon points="230.80,569.53 244.80,569.53 237.80,582.93" fill="#000"/>
<polygon points="437.40,560.03 451.40,560.03 444.40,573.43" fill="#000"/>
<polygon points="170.03,658.70 171.66,662.37 175.65,662.79 172.67,665.47 173.50,669.40 170.03,667.39 166.55,669.40 167.38,665.47 164.40,662.79 168.39,662.37" fill="#000"/>
<polygon points="184.07,658.70 185.71,662.37 189.70,662.79 186.72,665.47 187.55,669.40 184.07,667.39 180.60,669.40 181.43,665.47 178.45,662.79 182.44,662.37" fill="#000"/>
<polygon points="231.83,664.60 233.46,668.27 237.45,668.69 234.47,671.37 235.30,675.30 231.83,673.29 228.35,675.30 229.18,671.37 226.20,668.69 230.19,668.27" fill="#000"/>
<polygon points="245.77,664.60 247.41,668.27 251.40,668.69 248.42,671.37 249.25,675.30 245.77,673.29 242.30,675.30 243.13,671.37 240.15,668.69 244.14,668.27" fill="#000"/>
<polygon points="437.43,662.20 439.06,665.87 443.05,666.29 440.07,668.97 440.90,672.90 437.43,670.89 433.95,672.90 434.78,668.97 431.80,666.29 435.79,665.87" fill="#000"/>
<polygon points="451.37,662.20 453.01,665.87 457.00,666.29 454.02,668.97 454.85,672.90 451.37,670.89 447.90,672.90 448.73,668.97 445.75,666.29 449.74,665.87" fill="#000"/>
<line x1="527.40" y1="414.30" x2="527.40" y2="686.90" stroke="#000" stroke-width="2.4" stroke-linecap="butt"/>
<line x1="520.00" y1="685.90" x2="684.40" y2="685.90" stroke="#000" stroke-width="2.4" stroke-linecap="butt"/>
<line x1="520.00" y1="631.80" x2="527.40" y2="631.80" stroke="#000" stroke-width="2.4" stroke-linecap="butt"/>
<line x1="520.00" y1="577.70" x2="527.40" y2="577.70" stroke="#000" stroke-width="2.4" stroke-linecap="butt"/>
<line x1="520.00" y1="523.60" x2="527.40" y2="523.60" stroke="#000" stroke-width="2.4" stroke-linecap="butt"/>
<line x1="520.00" y1="469.50" x2="527.40" y2="469.50" stroke="#000" stroke-width="2.4" stroke-linecap="butt"/>
<text transform="translate(497.57,692.80) scale(1.0700,1)" textLength="11.34" lengthAdjust="spacingAndGlyphs" font-size="20.39" font-weight="bold" fill="#000" stroke="#000" stroke-width="0.45" stroke-linejoin="round">0</text>
<text transform="translate(497.28,638.70) scale(1.0700,1)" textLength="11.34" lengthAdjust="spacingAndGlyphs" font-size="20.39" font-weight="bold" fill="#000" stroke="#000" stroke-width="0.45" stroke-linejoin="round">5</text>
<g transform="translate(485.43,584.60) scale(1.0700,1)" font-size="20.39" font-weight="bold" fill="#000" stroke="#000" stroke-width="0.45" stroke-linejoin="round">
<polygon points="4.76,0.00 4.76,-11.45 2.34,-9.81 2.34,-11.90 5.18,-14.03 7.56,-14.03 7.56,0.00"/>
<text x="11.34" y="0">0</text>
</g>
<g transform="translate(485.15,530.50) scale(1.0700,1)" font-size="20.39" font-weight="bold" fill="#000" stroke="#000" stroke-width="0.45" stroke-linejoin="round">
<polygon points="4.76,0.00 4.76,-11.45 2.34,-9.81 2.34,-11.90 5.18,-14.03 7.56,-14.03 7.56,0.00"/>
<text x="11.34" y="0">5</text>
</g>
<text transform="translate(485.44,476.40) scale(1.0700,1)" textLength="22.68" lengthAdjust="spacingAndGlyphs" font-size="20.39" font-weight="bold" fill="#000" stroke="#000" stroke-width="0.45" stroke-linejoin="round">20</text>
<g transform="translate(531.93,415.70) scale(1.0983,1)" font-size="32.00" font-weight="bold" fill="#000" stroke="#000" stroke-width="0.45" stroke-linejoin="round">
<text x="0.00" y="0">c</text>
<polygon points="25.27,0.00 25.27,-17.97 21.47,-15.39 21.47,-18.67 25.92,-22.02 29.66,-22.02 29.66,0.00"/>
</g>
<rect x="550.85" y="455.75" width="20.30" height="230.15" fill="#fff" stroke="#000" stroke-width="2.5"/>
<line x1="560.40" y1="423.90" x2="560.40" y2="456.00" stroke="#000" stroke-width="2.4" stroke-linecap="butt"/>
<line x1="552.30" y1="423.90" x2="568.50" y2="423.90" stroke="#000" stroke-width="2.4" stroke-linecap="butt"/>
<rect x="578.70" y="507.80" width="23.00" height="178.10" fill="#000"/>
<clipPath id="c4"><rect x="580.90" y="510.00" width="18.60" height="175.90"/></clipPath>
<g clip-path="url(#c4)" stroke="#fff" stroke-width="4.0" stroke-linecap="round">
<line x1="582.80" y1="467.07" x2="597.60" y2="453.01"/>
<line x1="582.80" y1="476.81" x2="597.60" y2="462.75"/>
<line x1="582.80" y1="486.55" x2="597.60" y2="472.49"/>
<line x1="582.80" y1="496.29" x2="597.60" y2="482.23"/>
<line x1="582.80" y1="506.03" x2="597.60" y2="491.97"/>
<line x1="582.80" y1="515.77" x2="597.60" y2="501.71"/>
<line x1="582.80" y1="525.51" x2="597.60" y2="511.45"/>
<line x1="582.80" y1="535.25" x2="597.60" y2="521.19"/>
<line x1="582.80" y1="544.99" x2="597.60" y2="530.93"/>
<line x1="582.80" y1="554.73" x2="597.60" y2="540.67"/>
<line x1="582.80" y1="564.47" x2="597.60" y2="550.41"/>
<line x1="582.80" y1="574.21" x2="597.60" y2="560.15"/>
<line x1="582.80" y1="583.95" x2="597.60" y2="569.89"/>
<line x1="582.80" y1="593.69" x2="597.60" y2="579.63"/>
<line x1="582.80" y1="603.43" x2="597.60" y2="589.37"/>
<line x1="582.80" y1="613.17" x2="597.60" y2="599.11"/>
<line x1="582.80" y1="622.91" x2="597.60" y2="608.85"/>
<line x1="582.80" y1="632.65" x2="597.60" y2="618.59"/>
<line x1="582.80" y1="642.39" x2="597.60" y2="628.33"/>
<line x1="582.80" y1="652.13" x2="597.60" y2="638.07"/>
<line x1="582.80" y1="661.87" x2="597.60" y2="647.81"/>
<line x1="582.80" y1="671.61" x2="597.60" y2="657.55"/>
<line x1="582.80" y1="681.35" x2="597.60" y2="667.29"/>
<line x1="582.80" y1="691.09" x2="597.60" y2="677.03"/>
<line x1="582.80" y1="700.83" x2="597.60" y2="686.77"/>
<line x1="582.80" y1="710.57" x2="597.60" y2="696.51"/>
<line x1="582.80" y1="720.31" x2="597.60" y2="706.25"/>
<line x1="582.80" y1="730.05" x2="597.60" y2="715.99"/>
</g>
<line x1="590.10" y1="491.20" x2="590.10" y2="508.90" stroke="#000" stroke-width="2.4" stroke-linecap="butt"/>
<line x1="582.00" y1="491.20" x2="598.20" y2="491.20" stroke="#000" stroke-width="2.4" stroke-linecap="butt"/>
<rect x="608.20" y="603.60" width="23.20" height="82.30" fill="#000"/>
<clipPath id="c5"><rect x="610.40" y="605.80" width="18.80" height="80.10"/></clipPath>
<g clip-path="url(#c5)" stroke="#fff" stroke-width="4.0" stroke-linecap="round">
<line x1="612.30" y1="564.56" x2="627.30" y2="578.80"/>
<line x1="612.30" y1="574.29" x2="627.30" y2="588.54"/>
<line x1="612.30" y1="584.03" x2="627.30" y2="598.28"/>
<line x1="612.30" y1="593.77" x2="627.30" y2="608.02"/>
<line x1="612.30" y1="603.51" x2="627.30" y2="617.76"/>
<line x1="612.30" y1="613.25" x2="627.30" y2="627.50"/>
<line x1="612.30" y1="623.00" x2="627.30" y2="637.24"/>
<line x1="612.30" y1="632.74" x2="627.30" y2="646.98"/>
<line x1="612.30" y1="642.48" x2="627.30" y2="656.72"/>
<line x1="612.30" y1="652.22" x2="627.30" y2="666.46"/>
<line x1="612.30" y1="661.96" x2="627.30" y2="676.20"/>
<line x1="612.30" y1="671.70" x2="627.30" y2="685.94"/>
<line x1="612.30" y1="681.43" x2="627.30" y2="695.68"/>
<line x1="612.30" y1="691.17" x2="627.30" y2="705.42"/>
<line x1="612.30" y1="700.91" x2="627.30" y2="715.16"/>
<line x1="612.30" y1="710.65" x2="627.30" y2="724.90"/>
<line x1="612.30" y1="720.39" x2="627.30" y2="734.64"/>
<line x1="612.30" y1="730.13" x2="627.30" y2="744.38"/>
</g>
<line x1="620.10" y1="594.50" x2="620.10" y2="604.60" stroke="#000" stroke-width="2.4" stroke-linecap="butt"/>
<line x1="612.10" y1="594.50" x2="628.10" y2="594.50" stroke="#000" stroke-width="2.4" stroke-linecap="butt"/>
<rect x="637.40" y="568.00" width="23.40" height="117.90" fill="#000"/>
<clipPath id="c6"><rect x="639.40" y="570.00" width="19.10" height="115.90"/></clipPath>
<g clip-path="url(#c6)" fill="#fff">
<circle cx="641.30" cy="573.00" r="2.1"/>
<circle cx="641.30" cy="582.76" r="2.1"/>
<circle cx="641.30" cy="592.52" r="2.1"/>
<circle cx="641.30" cy="602.28" r="2.1"/>
<circle cx="641.30" cy="612.04" r="2.1"/>
<circle cx="641.30" cy="621.80" r="2.1"/>
<circle cx="641.30" cy="631.56" r="2.1"/>
<circle cx="641.30" cy="641.32" r="2.1"/>
<circle cx="641.30" cy="651.08" r="2.1"/>
<circle cx="641.30" cy="660.84" r="2.1"/>
<circle cx="641.30" cy="670.60" r="2.1"/>
<circle cx="641.30" cy="680.36" r="2.1"/>
<circle cx="646.18" cy="577.88" r="2.1"/>
<circle cx="646.18" cy="587.64" r="2.1"/>
<circle cx="646.18" cy="597.40" r="2.1"/>
<circle cx="646.18" cy="607.16" r="2.1"/>
<circle cx="646.18" cy="616.92" r="2.1"/>
<circle cx="646.18" cy="626.68" r="2.1"/>
<circle cx="646.18" cy="636.44" r="2.1"/>
<circle cx="646.18" cy="646.20" r="2.1"/>
<circle cx="646.18" cy="655.96" r="2.1"/>
<circle cx="646.18" cy="665.72" r="2.1"/>
<circle cx="646.18" cy="675.48" r="2.1"/>
<circle cx="651.06" cy="573.00" r="2.1"/>
<circle cx="651.06" cy="582.76" r="2.1"/>
<circle cx="651.06" cy="592.52" r="2.1"/>
<circle cx="651.06" cy="602.28" r="2.1"/>
<circle cx="651.06" cy="612.04" r="2.1"/>
<circle cx="651.06" cy="621.80" r="2.1"/>
<circle cx="651.06" cy="631.56" r="2.1"/>
<circle cx="651.06" cy="641.32" r="2.1"/>
<circle cx="651.06" cy="651.08" r="2.1"/>
<circle cx="651.06" cy="660.84" r="2.1"/>
<circle cx="651.06" cy="670.60" r="2.1"/>
<circle cx="651.06" cy="680.36" r="2.1"/>
<circle cx="655.94" cy="577.88" r="2.1"/>
<circle cx="655.94" cy="587.64" r="2.1"/>
<circle cx="655.94" cy="597.40" r="2.1"/>
<circle cx="655.94" cy="607.16" r="2.1"/>
<circle cx="655.94" cy="616.92" r="2.1"/>
<circle cx="655.94" cy="626.68" r="2.1"/>
<circle cx="655.94" cy="636.44" r="2.1"/>
<circle cx="655.94" cy="646.20" r="2.1"/>
<circle cx="655.94" cy="655.96" r="2.1"/>
<circle cx="655.94" cy="665.72" r="2.1"/>
<circle cx="655.94" cy="675.48" r="2.1"/>
</g>
<line x1="648.90" y1="556.70" x2="648.90" y2="569.00" stroke="#000" stroke-width="2.4" stroke-linecap="butt"/>
<line x1="640.90" y1="556.70" x2="656.90" y2="556.70" stroke="#000" stroke-width="2.4" stroke-linecap="butt"/>
<text transform="translate(547.59,710.00) scale(1.1372,1)" textLength="19.80" lengthAdjust="spacingAndGlyphs" font-size="19.80" font-weight="bold" fill="#000" stroke="#000" stroke-width="0.45" stroke-linejoin="round">DI</text>
<text transform="translate(576.70,710.00) scale(1.1302,1)" textLength="25.30" lengthAdjust="spacingAndGlyphs" font-size="19.80" font-weight="bold" fill="#000" stroke="#000" stroke-width="0.45" stroke-linejoin="round">DII</text>
<text transform="translate(617.53,710.00) scale(1.0351,1)" textLength="13.21" lengthAdjust="spacingAndGlyphs" font-size="19.80" font-weight="bold" fill="#000" stroke="#000" stroke-width="0.45" stroke-linejoin="round">P</text>
<text transform="translate(645.13,710.00) scale(1.0353,1)" textLength="13.21" lengthAdjust="spacingAndGlyphs" font-size="19.80" font-weight="bold" fill="#000" stroke="#000" stroke-width="0.45" stroke-linejoin="round">E</text>
</g>
</svg>
</body></html>
